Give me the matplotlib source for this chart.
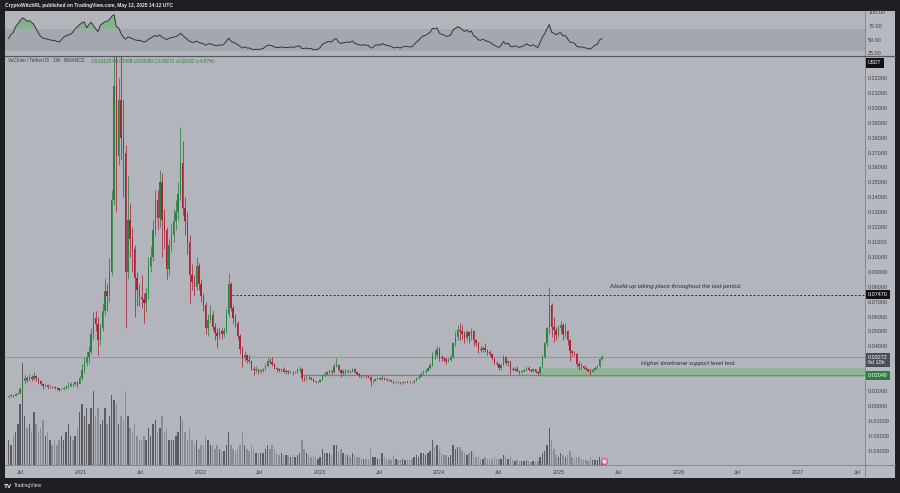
import numpy as np
import pandas as pd
import matplotlib
matplotlib.use('Agg')
import matplotlib.pyplot as plt
import matplotlib.dates as mdates
from matplotlib.patches import Rectangle
from matplotlib.lines import Line2D
from matplotlib.transforms import blended_transform_factory

plt.rcParams['font.family'] = ['Liberation Sans', 'DejaVu Sans']

# weekly VET/USDT candles, Binance, 2020-05-25 .. 2025-05-12
weeks = pd.date_range('2020-05-25', periods=260, freq='7D')
first_open = 0.0058

close = np.array([
    0.0066, 0.0072, 0.0068, 0.0080, 0.0085, 0.0115, 0.0165, 0.0185, 0.0175, 0.0195,
    0.0180, 0.0200, 0.0185, 0.0165, 0.0150, 0.0135, 0.0140, 0.0125, 0.0130, 0.0125,
    0.0122, 0.0118, 0.0110, 0.0114, 0.0118, 0.0130, 0.0135, 0.0148, 0.0145, 0.0158,
    0.0150, 0.0185, 0.0240, 0.0290, 0.0330, 0.0360, 0.0480, 0.0590, 0.0550, 0.0440,
    0.0520, 0.0640, 0.0770, 0.0740, 0.0900, 0.1380, 0.2150, 0.1680, 0.2050, 0.1800,
    0.1700, 0.0900, 0.1250, 0.1120, 0.1050, 0.0860, 0.0780, 0.0730, 0.0720, 0.0690,
    0.0760, 0.0940, 0.1000, 0.1180, 0.1380, 0.1260, 0.1500, 0.1250, 0.1180, 0.0920,
    0.1080, 0.1150, 0.1240, 0.1300, 0.1420, 0.1630, 0.1330, 0.1240, 0.1100, 0.0880,
    0.0830, 0.0800, 0.0940, 0.0820, 0.0740, 0.0680, 0.0520, 0.0580, 0.0610, 0.0530,
    0.0490, 0.0470, 0.0500, 0.0480, 0.0500, 0.0620, 0.0820, 0.0660, 0.0590, 0.0560,
    0.0470, 0.0380, 0.0320, 0.0340, 0.0310, 0.0300, 0.0250, 0.0240, 0.0245, 0.0230,
    0.0240, 0.0245, 0.0270, 0.0300, 0.0295, 0.0280, 0.0255, 0.0245, 0.0240, 0.0245,
    0.0230, 0.0232, 0.0225, 0.0230, 0.0225, 0.0228, 0.0240, 0.0245, 0.0190, 0.0185,
    0.0190, 0.0185, 0.0180, 0.0165, 0.0160, 0.0162, 0.0175, 0.0205, 0.0215, 0.0225,
    0.0232, 0.0228, 0.0265, 0.0275, 0.0240, 0.0220, 0.0232, 0.0230, 0.0235, 0.0232,
    0.0245, 0.0225, 0.0215, 0.0205, 0.0198, 0.0202, 0.0198, 0.0195, 0.0165, 0.0168,
    0.0180, 0.0185, 0.0180, 0.0190, 0.0180, 0.0176, 0.0172, 0.0168, 0.0158, 0.0160,
    0.0158, 0.0156, 0.0160, 0.0163, 0.0162, 0.0160, 0.0158, 0.0170, 0.0185, 0.0195,
    0.0215, 0.0228, 0.0235, 0.0255, 0.0275, 0.0345, 0.0340, 0.0385, 0.0330, 0.0320,
    0.0315, 0.0300, 0.0310, 0.0330, 0.0420, 0.0460, 0.0510, 0.0500, 0.0480, 0.0455,
    0.0495, 0.0470, 0.0500, 0.0440, 0.0420, 0.0380, 0.0375, 0.0390, 0.0375, 0.0360,
    0.0350, 0.0325, 0.0290, 0.0280, 0.0255, 0.0275, 0.0330, 0.0285, 0.0300, 0.0250,
    0.0240, 0.0250, 0.0238, 0.0225, 0.0232, 0.0240, 0.0258, 0.0240, 0.0235, 0.0245,
    0.0228, 0.0218, 0.0262, 0.0330, 0.0420, 0.0520, 0.0680, 0.0530, 0.0510, 0.0475,
    0.0520, 0.0540, 0.0480, 0.0500, 0.0440, 0.0370, 0.0355, 0.0348, 0.0280, 0.0268,
    0.0265, 0.0255, 0.0245, 0.0235, 0.0228, 0.0242, 0.0255, 0.0265, 0.0312, 0.03272,
])

high = np.array([
    0.0070, 0.0078, 0.0075, 0.0085, 0.0090, 0.0125, 0.0175, 0.0215, 0.0200, 0.0215,
    0.0205, 0.0230, 0.0210, 0.0190, 0.0175, 0.0155, 0.0150, 0.0145, 0.0138, 0.0135,
    0.0132, 0.0128, 0.0122, 0.0120, 0.0125, 0.0138, 0.0160, 0.0158, 0.0155, 0.0165,
    0.0170, 0.0200, 0.0280, 0.0330, 0.0370, 0.0400, 0.0520, 0.0630, 0.0640, 0.0600,
    0.0560, 0.0690, 0.0860, 0.0820, 0.0990, 0.1450, 0.2480, 0.2810, 0.2200, 0.2550,
    0.2050, 0.1750, 0.1540, 0.1360, 0.1200, 0.1080, 0.0900, 0.0820, 0.0880, 0.0760,
    0.0800, 0.1000, 0.1070, 0.1250, 0.1450, 0.1450, 0.1580, 0.1560, 0.1320, 0.1200,
    0.1120, 0.1220, 0.1320, 0.1380, 0.1500, 0.1870, 0.1780, 0.1400, 0.1300, 0.1150,
    0.0950, 0.0880, 0.1000, 0.0960, 0.0850, 0.0760, 0.0700, 0.0620, 0.0680, 0.0640,
    0.0560, 0.0520, 0.0530, 0.0520, 0.0530, 0.0650, 0.0890, 0.0830, 0.0680, 0.0620,
    0.0570, 0.0480, 0.0400, 0.0370, 0.0350, 0.0340, 0.0310, 0.0265, 0.0270, 0.0250,
    0.0250, 0.0255, 0.0290, 0.0320, 0.0320, 0.0330, 0.0290, 0.0260, 0.0255, 0.0255,
    0.0260, 0.0245, 0.0240, 0.0240, 0.0235, 0.0235, 0.0255, 0.0265, 0.0255, 0.0200,
    0.0198, 0.0200, 0.0195, 0.0185, 0.0168, 0.0168, 0.0180, 0.0210, 0.0230, 0.0235,
    0.0245, 0.0240, 0.0285, 0.0320, 0.0280, 0.0245, 0.0245, 0.0245, 0.0245, 0.0242,
    0.0255, 0.0255, 0.0232, 0.0220, 0.0210, 0.0210, 0.0206, 0.0205, 0.0198, 0.0175,
    0.0188, 0.0195, 0.0192, 0.0205, 0.0195, 0.0185, 0.0180, 0.0176, 0.0170, 0.0166,
    0.0166, 0.0162, 0.0165, 0.0168, 0.0168, 0.0170, 0.0164, 0.0175, 0.0192, 0.0205,
    0.0225, 0.0240, 0.0245, 0.0262, 0.0290, 0.0360, 0.0375, 0.0400, 0.0395, 0.0345,
    0.0330, 0.0325, 0.0320, 0.0340, 0.0430, 0.0500, 0.0545, 0.0555, 0.0540, 0.0500,
    0.0510, 0.0505, 0.0520, 0.0510, 0.0450, 0.0430, 0.0400, 0.0405, 0.0420, 0.0385,
    0.0375, 0.0355, 0.0330, 0.0300, 0.0290, 0.0280, 0.0345, 0.0335, 0.0310, 0.0305,
    0.0260, 0.0260, 0.0265, 0.0240, 0.0240, 0.0248, 0.0268, 0.0265, 0.0248, 0.0255,
    0.0250, 0.0235, 0.0270, 0.0345, 0.0430, 0.0530, 0.0800, 0.0690, 0.0600, 0.0530,
    0.0540, 0.0570, 0.0560, 0.0555, 0.0510, 0.0450, 0.0375, 0.0372, 0.0355, 0.0300,
    0.0285, 0.0272, 0.0270, 0.0250, 0.0245, 0.0250, 0.0265, 0.0275, 0.0325, 0.03398,
])

low = np.array([
    0.0055, 0.0063, 0.0062, 0.0066, 0.0077, 0.0083, 0.0112, 0.0150, 0.0160, 0.0165,
    0.0165, 0.0175, 0.0170, 0.0150, 0.0140, 0.0115, 0.0125, 0.0115, 0.0120, 0.0118,
    0.0115, 0.0110, 0.0102, 0.0105, 0.0110, 0.0115, 0.0118, 0.0128, 0.0135, 0.0140,
    0.0125, 0.0148, 0.0175, 0.0220, 0.0270, 0.0290, 0.0350, 0.0450, 0.0500, 0.0340,
    0.0410, 0.0500, 0.0610, 0.0640, 0.0700, 0.0880, 0.1350, 0.1300, 0.1620, 0.1650,
    0.1400, 0.0520, 0.0850, 0.1000, 0.0900, 0.0600, 0.0670, 0.0670, 0.0660, 0.0560,
    0.0630, 0.0720, 0.0900, 0.0970, 0.1150, 0.1180, 0.1200, 0.1000, 0.1050, 0.0850,
    0.0880, 0.1030, 0.1100, 0.1180, 0.1250, 0.1380, 0.1280, 0.1150, 0.1020, 0.0690,
    0.0780, 0.0740, 0.0780, 0.0780, 0.0700, 0.0640, 0.0480, 0.0470, 0.0560, 0.0510,
    0.0440, 0.0390, 0.0450, 0.0450, 0.0460, 0.0490, 0.0600, 0.0640, 0.0560, 0.0530,
    0.0450, 0.0350, 0.0260, 0.0300, 0.0290, 0.0290, 0.0240, 0.0210, 0.0230, 0.0215,
    0.0220, 0.0225, 0.0240, 0.0260, 0.0280, 0.0270, 0.0245, 0.0230, 0.0230, 0.0225,
    0.0220, 0.0215, 0.0215, 0.0220, 0.0210, 0.0218, 0.0222, 0.0230, 0.0170, 0.0170,
    0.0175, 0.0178, 0.0172, 0.0158, 0.0152, 0.0155, 0.0158, 0.0172, 0.0200, 0.0205,
    0.0215, 0.0215, 0.0220, 0.0260, 0.0235, 0.0195, 0.0210, 0.0215, 0.0220, 0.0222,
    0.0228, 0.0218, 0.0205, 0.0195, 0.0190, 0.0192, 0.0190, 0.0188, 0.0134, 0.0155,
    0.0165, 0.0175, 0.0172, 0.0175, 0.0175, 0.0170, 0.0165, 0.0162, 0.0148, 0.0152,
    0.0152, 0.0150, 0.0150, 0.0156, 0.0157, 0.0155, 0.0152, 0.0155, 0.0168, 0.0182,
    0.0192, 0.0210, 0.0220, 0.0232, 0.0250, 0.0270, 0.0315, 0.0330, 0.0300, 0.0300,
    0.0295, 0.0280, 0.0295, 0.0305, 0.0325, 0.0400, 0.0440, 0.0440, 0.0450, 0.0420,
    0.0440, 0.0420, 0.0440, 0.0400, 0.0400, 0.0355, 0.0360, 0.0360, 0.0365, 0.0345,
    0.0335, 0.0310, 0.0280, 0.0265, 0.0240, 0.0240, 0.0272, 0.0275, 0.0270, 0.0215,
    0.0232, 0.0235, 0.0230, 0.0215, 0.0220, 0.0225, 0.0238, 0.0232, 0.0225, 0.0230,
    0.0222, 0.0205, 0.0210, 0.0255, 0.0320, 0.0400, 0.0480, 0.0460, 0.0430, 0.0440,
    0.0460, 0.0480, 0.0445, 0.0460, 0.0410, 0.0300, 0.0335, 0.0335, 0.0260, 0.0240,
    0.0245, 0.0245, 0.0240, 0.0225, 0.0205, 0.0225, 0.0240, 0.0250, 0.0262, 0.03089,
])

# weekly volume, billions VET (rough)
volume = np.array([
    6, 5, 7, 8, 10, 15, 25, 12, 9, 10,
    8, 13, 10, 8, 9, 11, 7, 8, 6, 5,
    6, 5, 6, 7, 6, 8, 10, 7, 6, 7,
    9, 13, 15, 12, 14, 10, 14, 18, 12, 14,
    10, 11, 14, 10, 12, 17, 16, 15, 10, 12,
    11, 18, 12, 9, 8, 10, 7, 6, 6, 7,
    6, 9, 7, 10, 11, 8, 9, 12, 8, 9,
    6, 6, 6, 7, 8, 12, 11, 8, 6, 9,
    6, 5, 6, 4, 5, 5, 7, 6, 5, 5,
    4, 5, 4, 3.5, 3.5, 5, 8, 5, 4, 3.5,
    4, 5, 8, 5, 4, 3.5, 5, 4, 3, 3,
    3, 3, 4, 5, 4, 5, 4, 3, 2.5, 3,
    2.5, 2.5, 2.5, 2, 2.5, 2, 2.5, 3, 6, 4,
    3, 2.5, 2, 2.5, 2, 1.5, 2, 4, 3, 3,
    3, 2.5, 5, 5, 3.5, 4, 3, 2.5, 2.5, 2,
    3, 2.5, 2, 2, 1.5, 1.5, 1.5, 1.5, 4, 2,
    2, 1.5, 1.5, 3, 2, 1.5, 1.5, 1.2, 2.5, 1.5,
    1.2, 1.2, 1.5, 1.2, 1.2, 1.2, 1.5, 2, 2.5, 2,
    3, 3, 2.5, 3, 3.5, 6, 4.5, 5, 4, 3,
    2.5, 2.5, 2, 2.5, 5, 4, 4.5, 4.5, 3.5, 3,
    2.5, 3, 3.5, 3, 2, 2, 1.5, 1.5, 2, 1.5,
    1.5, 1.5, 2, 1.5, 1.5, 1.5, 2.5, 2, 1.5, 2.5,
    1.2, 1, 1.2, 1, 1, 1, 1.2, 1, 0.8, 1,
    1, 1, 2, 3, 3.5, 5, 9, 6, 4, 2.5,
    2, 3, 2.5, 2, 2.5, 3.5, 2, 1.5, 2, 2,
    1.5, 1.2, 1.2, 1, 2, 1.2, 1.2, 1.2, 2, 1,
])

rsi = np.array([
    52, 60, 63, 74, 79, 85, 90, 88, 84, 85,
    82, 78, 70, 62, 56, 53, 52, 51, 50, 49,
    49, 47, 46, 50, 55, 57, 59, 60, 64, 70,
    74, 78, 81, 83, 72, 78, 82, 76, 70, 65,
    77, 80, 83, 84, 87, 93, 96, 74, 72, 62,
    55, 51, 55, 54, 52, 50, 49, 49, 48, 46,
    47, 51, 53, 56, 58, 56, 59, 54, 53, 50,
    53, 54, 55, 56, 58, 62, 58, 54, 51, 47,
    46, 45, 48, 45, 44, 43, 40, 42, 43, 41,
    40, 39, 41, 40, 42, 47, 53, 48, 45, 44,
    41, 38, 35, 37, 35, 35, 33, 32, 33, 32,
    33, 34, 37, 40, 40, 39, 37, 36, 36, 37,
    36, 36, 36, 37, 36, 37, 38, 39, 34, 34,
    35, 34, 34, 32, 32, 33, 36, 42, 44, 46,
    47, 46, 51, 52, 46, 43, 45, 45, 46, 45,
    48, 44, 42, 41, 40, 41, 40, 40, 35, 36,
    40, 41, 40, 43, 41, 40, 39, 38, 35, 36,
    36, 35, 37, 38, 38, 37, 37, 41, 46, 49,
    54, 57, 58, 61, 64, 71, 70, 72, 62, 60,
    59, 56, 57, 59, 68, 71, 74, 72, 69, 65,
    68, 64, 66, 57, 55, 50, 49, 51, 49, 47,
    46, 43, 40, 38, 36, 40, 47, 42, 44, 38,
    37, 39, 38, 36, 38, 39, 43, 40, 39, 41,
    38, 36, 45, 55, 61, 70, 78, 64, 62, 59,
    62, 63, 57, 58, 52, 46, 45, 44, 38, 37,
    37, 36, 35, 34, 33, 37, 40, 42, 50, 52,
])

resistance = 0.07470
support = 0.02048
last_price = 0.03272
zone = (0.0195, 0.0255)
# 0.02 and 0.03 sit under the price tags on the axis
price_ticks = [v for v in np.round(np.arange(-0.03, 0.2201, 0.01), 2) if v not in (0.02, 0.03)]

# colours
DARK = '#1e1f22'
PANE = '#b3b5bc'
AXBG = '#b7b9c0'
BAND = '#a5a7ae'
GREEN = '#2a8240'
RED = '#ad2239'
TXT = '#3b3d42'

W, H = 900, 493
fig = plt.figure(figsize=(9, 4.93), dpi=100, facecolor=DARK)


def rect(x0, y0, x1, y1):
    return [x0 / W, 1 - y1 / H, (x1 - x0) / W, (y1 - y0) / H]


fig.patches.append(Rectangle((5 / W, 1 - 478 / H), 890 / W, 467 / H,
                             transform=fig.transFigure, fc=AXBG, ec='none', zorder=-5))

ax_rsi = fig.add_axes(rect(5, 11, 865, 55))
ax_vol = fig.add_axes(rect(5, 56, 865, 465))
ax = fig.add_axes(rect(5, 56, 865, 465))
ax.set_facecolor('none')
ax_vol.set_facecolor(PANE)
ax_rsi.set_facecolor(PANE)

t = mdates.date2num(weeks)
jan21 = mdates.date2num(pd.Timestamp('2021-01-01'))
xmin, xmax = jan21 - 232.3, jan21 + 2396
for a in (ax, ax_vol, ax_rsi):
    a.set_xlim(xmin, xmax)
    for s in a.spines.values():
        s.set_visible(False)

opens = np.r_[first_open, close[:-1]]
rising = close >= opens
cols = np.where(rising, GREEN, RED)

# volume
ax_vol.bar(t, volume, width=4.4, color=np.where(rising, '#5a5c62', '#8b8d94'), lw=0)
ax_vol.set_ylim(0, 100)
ax_vol.set_xticks([])
ax_vol.set_yticks([])

# price
ax.axhline(last_price, color='#8e9198', lw=0.6, zorder=1)
ax.hlines(support, mdates.date2num(pd.Timestamp('2022-11-07')), xmax, colors='#6d8a74', lw=0.9, zorder=1)
z0 = mdates.date2num(pd.Timestamp('2024-11-04'))
ax.add_patch(Rectangle((z0, zone[0]), xmax - z0, zone[1] - zone[0],
                       fc='#4caf50', alpha=0.3, ec='none', zorder=1))
ax.hlines(resistance, mdates.date2num(pd.Timestamp('2022-04-08')), xmax, colors='#2a2a2a',
          linestyles=(0, (2, 2)), lw=0.7, zorder=2)

ax.vlines(t, low, high, colors=cols, lw=0.55, zorder=3)
ax.bar(t, np.maximum(np.abs(close - opens), 0.0003), bottom=np.minimum(opens, close),
       width=4.4, color=cols, lw=0, zorder=4)

ax.set_ylim(-0.0396, 0.2348)
ax.yaxis.tick_right()
ax.set_yticks(price_ticks)
ax.set_yticklabels([f'{v:.5f}' for v in price_ticks])
ax.tick_params(axis='y', length=0, pad=2.3, labelsize=3.9, labelcolor=TXT)

xt, xl = [], []
for y in range(2020, 2028):
    for m, lab in ((1, str(y)), (7, 'Jul')):
        d = mdates.date2num(pd.Timestamp(f'{y}-{m:02d}-01'))
        if xmin < d < xmax:
            xt.append(d)
            xl.append(lab)
ax.set_xticks(xt)
ax.set_xticklabels(xl)
ax.tick_params(axis='x', length=0, pad=3.3, labelsize=3.9, labelcolor=TXT)

ytr = ax.get_yaxis_transform()
tag = dict(transform=ytr, ha='left', va='center', fontsize=3.9, color='white',
           clip_on=False, zorder=10)
ax.text(1.0035, resistance, '0.07470', bbox=dict(boxstyle='square,pad=0.35', fc='#111111', ec='none'), **tag)
ax.text(1.0035, last_price - 0.0020, '0.03272\n6d 10h', linespacing=1.15,
        bbox=dict(boxstyle='square,pad=0.35', fc='#4b4e56', ec='none'), **tag)
ax.text(1.0035, support, '0.02048', bbox=dict(boxstyle='square,pad=0.35', fc='#2e7d3c', ec='none'), **tag)

ax.text(mdates.date2num(pd.Timestamp('2025-12-22')), 0.0799,
        'A build-up taking place throughout the last period.',
        ha='center', va='center', fontsize=4.3, style='italic', color='#2a2a2a')
ax.text(mdates.date2num(pd.Timestamp('2026-02-01')), 0.0282,
        'Higher timeframe support level test.',
        ha='center', va='center', fontsize=4.3, style='italic', color='#2a2a2a')

mk = blended_transform_factory(ax.transData, ax.transAxes)
ax.plot([mdates.date2num(pd.Timestamp('2025-05-19'))], [0.01], transform=mk, marker='o', ms=4.2,
        mfc='#f6d3ea', mec='#d44ea3', mew=0.9, clip_on=False, zorder=6)

# RSI pane
ax_rsi.axhspan(30, 70, color=BAND, lw=0)
ax_rsi.fill_between(t, rsi, 70, where=rsi >= 70, interpolate=True, color='#4caf50', alpha=0.45, lw=0)
ax_rsi.plot(t, rsi, color='#34363b', lw=0.7)
ax_rsi.set_ylim(22.2, 102.7)
ax_rsi.yaxis.tick_right()
ax_rsi.set_yticks([25, 50, 75, 100])
ax_rsi.set_yticklabels(['25.00', '50.00', '75.00', '100.00'])
ax_rsi.tick_params(axis='y', length=0, pad=2.3, labelsize=3.9, labelcolor=TXT)
ax_rsi.set_xticks([])

# separators
for x0, y0, x1, y1, c, lw in ((865, 11, 865, 478, '#7d8088', 0.6),
                              (5, 465, 895, 465, '#7d8088', 0.6),
                              (5, 55.5, 895, 55.5, '#55585f', 0.9)):
    fig.add_artist(Line2D([x0 / W, x1 / W], [1 - y0 / H, 1 - y1 / H], color=c, lw=lw))

fig.text(868 / W, 1 - 63 / H, 'USDT', fontsize=3.6, color='white', va='center', ha='left',
         bbox=dict(boxstyle='square,pad=0.5', fc='#111111', ec='none'))

fig.text(5 / W, 1 - 5.5 / H, 'CryptoWitchRL published on TradingView.com, May 12, 2025 14:12 UTC',
         color='#e6e6e6', fontsize=3.5, va='center', weight='bold')
fig.text(8 / W, 1 - 61 / H, 'VeChain / TetherUS \u00b7 1W \u00b7 BINANCE', color=TXT, fontsize=3.3, va='center')
fig.text(91 / W, 1 - 61 / H, 'O0.03120 H0.03398 L0.03089 C0.03272 +0.00152 (+4.87%)',
         color='#2e7d3c', fontsize=3.3, va='center')
fig.text(4 / W, 1 - 486 / H, 'TV', color='white', fontsize=4.6, weight='bold', va='center')
fig.text(14 / W, 1 - 486 / H, 'TradingView', color='#e6e6e6', fontsize=3.6, va='center')

fig.savefig('out.png', dpi=100, facecolor=DARK)
